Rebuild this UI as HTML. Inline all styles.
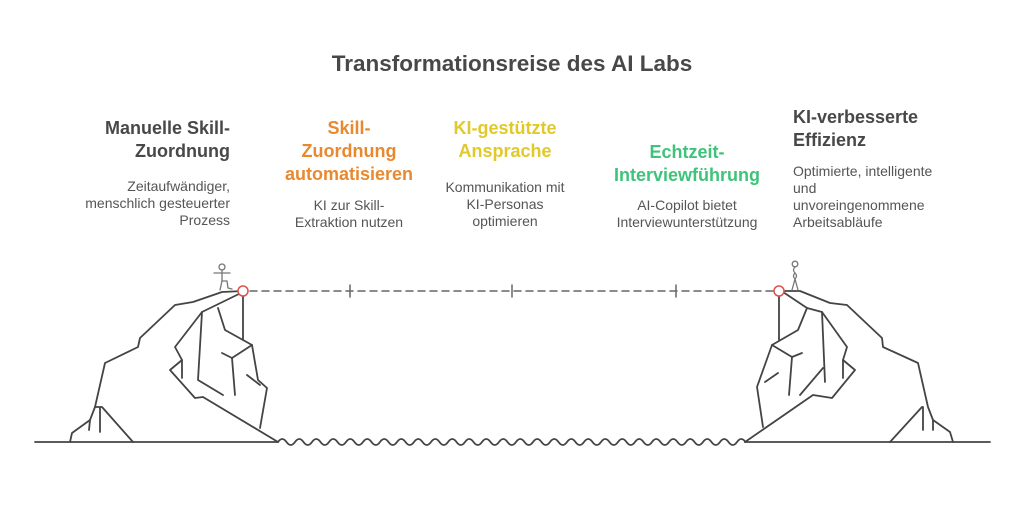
<!DOCTYPE html>
<html><head><meta charset="utf-8"><style>
body{margin:0;width:1024px;height:512px;background:#fff;position:relative;overflow:hidden;font-family:"Liberation Sans",sans-serif}
.t{position:absolute;left:0;width:1024px;top:51px;text-align:center;font-size:22.5px;font-weight:bold;color:#484848}
.h{position:absolute;font-size:18px;font-weight:bold;line-height:23px}
.d{position:absolute;font-size:14px;line-height:17px;color:#555}
.c{text-align:center;width:200px}
</style></head><body>
<div class="t">Transformationsreise des AI Labs</div>

<div class="h" style="right:794px;top:117px;text-align:right;color:#484848">Manuelle Skill-<br>Zuordnung</div>
<div class="d" style="right:794px;top:178px;text-align:right">Zeitaufwändiger,<br>menschlich gesteuerter<br>Prozess</div>

<div class="h c" style="left:249px;top:117px;color:#e8892f">Skill-<br>Zuordnung<br>automatisieren</div>
<div class="d c" style="left:249px;top:197px">KI zur Skill-<br>Extraktion nutzen</div>

<div class="h c" style="left:405px;top:117px;color:#e2c92a">KI-gestützte<br>Ansprache</div>
<div class="d c" style="left:405px;top:179px">Kommunikation mit<br>KI-Personas<br>optimieren</div>

<div class="h c" style="left:587px;top:141px;color:#3ec47a">Echtzeit-<br>Interviewführung</div>
<div class="d c" style="left:587px;top:197px">AI-Copilot bietet<br>Interviewunterstützung</div>

<div class="h" style="left:793px;top:106px;color:#484848">KI-verbesserte<br>Effizienz</div>
<div class="d" style="left:793px;top:163px">Optimierte, intelligente<br>und<br>unvoreingenommene<br>Arbeitsabläufe</div>

<svg width="1024" height="512" style="position:absolute;left:0;top:0" fill="none" stroke="#444" stroke-width="1.8" stroke-linejoin="round" stroke-linecap="round">
<line x1="35" y1="442" x2="278" y2="442"/>
<line x1="745" y1="442" x2="990" y2="442"/>
<path d="M278 442 q4.25 -6 8.5 0 t8.5 0 t8.5 0 t8.5 0 t8.5 0 t8.5 0 t8.5 0 t8.5 0 t8.5 0 t8.5 0 t8.5 0 t8.5 0 t8.5 0 t8.5 0 t8.5 0 t8.5 0 t8.5 0 t8.5 0 t8.5 0 t8.5 0 t8.5 0 t8.5 0 t8.5 0 t8.5 0 t8.5 0 t8.5 0 t8.5 0 t8.5 0 t8.5 0 t8.5 0 t8.5 0 t8.5 0 t8.5 0 t8.5 0 t8.5 0 t8.5 0 t8.5 0 t8.5 0 t8.5 0 t8.5 0 t8.5 0 t8.5 0 t8.5 0 t8.5 0 t8.5 0 t8.5 0 t8.5 0 t8.5 0 t8.5 0 t8.5 0 t8.5 0 t8.5 0 t8.5 0 t8.5 0 t8.5 0"/>
<!-- left cliff -->
<polyline points="70,442 72,433 90,420 95,407 105,363 138,347 140,338 175,305 193,302 222,292 243,291"/>
<polyline points="243,292 202,312 175,347 182,360 170,370 195,398 203,397 278,442"/>
<polyline points="243,292 243,340"/>
<polyline points="218,308 225,330 252,345 258,380 267,388 260,428"/>
<polyline points="252,345 232,358 235,395"/>
<polyline points="232,358 222,353"/>
<polyline points="202,312 198,380 223,395"/>
<polyline points="182,360 182,378"/>
<polyline points="247,375 260,385"/>
<polyline points="95,407 102,407 133,442"/>
<polyline points="100,408 100,432"/>
<polyline points="90,420 89,430"/>
<!-- right cliff -->
<polyline points="779,291 800,291 830,303 847,305 882,338 883,347 918,363 928,407 933,420 950,432 953,442"/>
<polyline points="922,407 890,442"/>
<polyline points="923,407 923,430"/>
<polyline points="933,420 933,430"/>
<polyline points="783,292 807,308 822,312 847,347 843,360 855,370 832,398 813,395 745,442"/>
<polyline points="779,292 779,340"/>
<polyline points="807,308 798,330 772,345 757,387 763,427"/>
<polyline points="772,345 792,357 802,353"/>
<polyline points="792,357 789,395"/>
<polyline points="822,312 825,382"/>
<polyline points="823,368 800,395"/>
<polyline points="843,360 843,378"/>
<polyline points="765,382 778,373"/>
<!-- dashed line -->
<line x1="250" y1="291" x2="773" y2="291" stroke="#666" stroke-width="1.5" stroke-dasharray="7,5"/>
<line x1="350" y1="285" x2="350" y2="297" stroke="#666" stroke-width="1.5"/>
<line x1="512" y1="285" x2="512" y2="297" stroke="#666" stroke-width="1.5"/>
<line x1="676" y1="285" x2="676" y2="297" stroke="#666" stroke-width="1.5"/>
<circle cx="243" cy="291" r="5" stroke="#e0504a" stroke-width="1.5" fill="#fff"/>
<circle cx="779" cy="291" r="5" stroke="#e0504a" stroke-width="1.5" fill="#fff"/>
<!-- figures -->
<g stroke="#777" stroke-width="1.3">
<circle cx="222" cy="267" r="3"/>
<line x1="222" y1="270" x2="222" y2="281"/>
<line x1="214" y1="273" x2="230" y2="273"/>
<polyline points="222,281 220,290"/>
<polyline points="222,281 227,281 228,288 232,289"/>
<circle cx="795" cy="264" r="2.8"/>
<path d="M795 267 q-3 3 0 6 q3 3 0 6 q-3-3 0-6"/>
<line x1="795" y1="279" x2="792" y2="290"/>
<line x1="795" y1="279" x2="798" y2="290"/>
</g>
</svg>
</body></html>
